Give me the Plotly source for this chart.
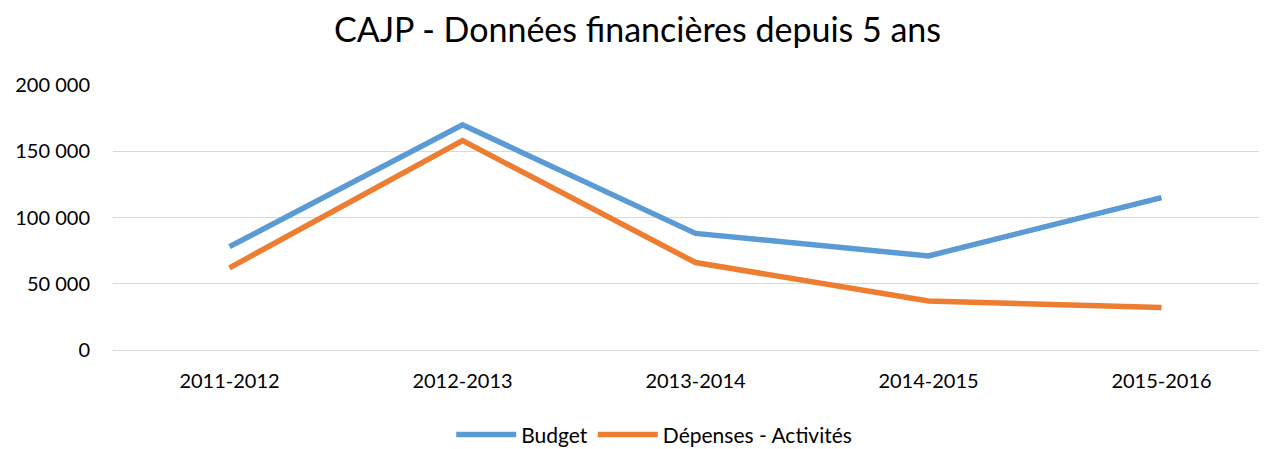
import plotly.graph_objects as go

categories = ["2011-2012", "2012-2013", "2013-2014", "2014-2015", "2015-2016"]
budget = [78000, 170000, 88000, 71000, 115000]
depenses = [62000, 158000, 66000, 37000, 32000]
y_ticks = [0, 50000, 100000, 150000, 200000]

FONT = "Lato, Carlito, Calibri, sans-serif"

fig = go.Figure()
fig.add_trace(go.Scatter(x=list(range(len(categories))), y=budget, name="Budget",
                         mode="lines", line=dict(color="#5B9BD5", width=5.5)))
fig.add_trace(go.Scatter(x=list(range(len(categories))), y=depenses, name="Dépenses - Activités",
                         mode="lines", line=dict(color="#ED7D31", width=5.5)))

# page has an 8px body margin; compensate so the drawing lands at the reference position
W, H = 1259, 441
L, R, T, B = 105, 0, 76.5, 98.5
step = 233.0
xmax = -0.5 + (W - L - R) / step

fig.update_layout(
    width=W, height=H,
    margin=dict(l=L, r=R, t=T, b=B, autoexpand=False),
    paper_bgcolor="white", plot_bgcolor="white",
    separators=", ",
    font=dict(family=FONT, size=20, color="#000000"),
    title=dict(text="CAJP - Données financières depuis 5 ans", x=0.5, xanchor="center",
               y=0.95, yanchor="middle", yref="container",
               font=dict(family=FONT, size=34, color="#000000")),
    xaxis=dict(range=[-0.5, xmax], tickmode="array", tickvals=list(range(len(categories))),
               ticktext=categories, showgrid=False, zeroline=False, showline=False,
               ticks="", ticklabelstandoff=17, tickfont=dict(size=20)),
    yaxis=dict(range=[0, 200000], tickmode="array", tickvals=y_ticks, tickformat=",d",
               showgrid=True, gridcolor="#D9D9D9", gridwidth=1.3, zeroline=True,
               zerolinecolor="#D9D9D9", zerolinewidth=1.3, showline=False, ticks="",
               ticklabelstandoff=22, tickfont=dict(size=20)),
    legend=dict(orientation="h", x=0.469, xanchor="center", y=0.032, yanchor="middle",
                yref="container", font=dict(size=21), itemwidth=60, tracegroupgap=0),
    showlegend=True,
)

fig.write_html("out.html")
